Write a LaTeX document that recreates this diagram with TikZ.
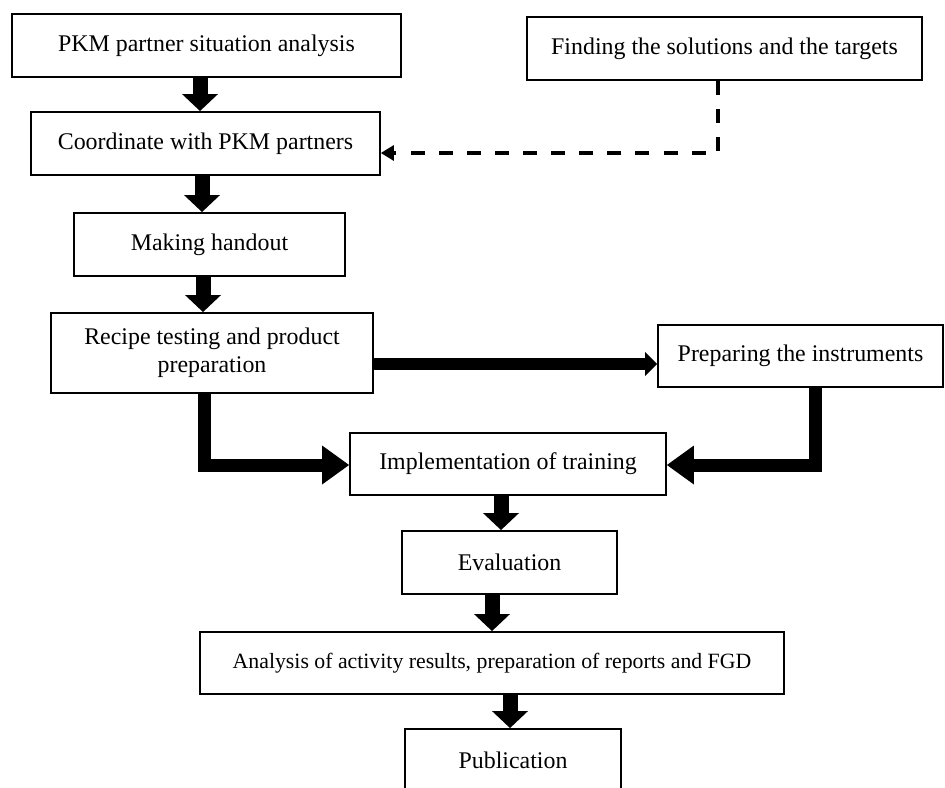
\documentclass[tikz,border=0pt]{standalone}
\usepackage{fontspec}
\setmainfont{Liberation Serif}
\usetikzlibrary{positioning, arrows.meta}

\begin{document}
\begin{tikzpicture}[x=0.02cm, y=-0.02cm,
box/.style={rectangle, draw=black, line width=1.1pt, align=center, font=\fontsize{13.6}{16}\selectfont, minimum height=1.26cm, inner sep=2pt},
block/.style={-{Triangle[length=0.34cm, width=0.72cm, line width=0pt]}, line width=0.3cm},
thin block/.style={-{Triangle[length=0.24cm, width=0.48cm, line width=0pt]}, line width=0.25cm},
bend block/.style={-{Triangle[length=0.54cm, width=0.78cm, line width=0pt]}, line width=0.26cm, line join=miter},
feedback/.style={-{Triangle[length=0.26cm, width=0.32cm, line width=0pt]}, line width=2.5pt, dash pattern=on 8pt off 8pt},
]
\useasboundingbox (0,0) rectangle (945,787);

%Nodes
\node [box, minimum width=7.78cm] (situation) at (206.5,45.5) {PKM partner situation analysis};
\node [box, minimum width=7.9cm] (finding) at (724.5,48.5) {Finding the solutions and the targets};
\node [box, minimum width=6.98cm] (coordinate) at (205.5,143.5) {Coordinate with PKM partners};
\node [box, minimum width=5.42cm] (handout) at (209.5,244.5) {Making handout};
\node [box, minimum width=6.44cm, minimum height=1.6cm] (recipe) at (212,353) {Recipe testing and product\\preparation};
\node [box, minimum width=5.7cm, minimum height=1.24cm] (instruments) at (800.5,356) {Preparing the instruments};
\node [box, minimum width=6.32cm, minimum height=1.24cm] (training) at (508,464) {Implementation of training};
\node [box, minimum width=4.3cm] (evaluation) at (509.5,562.5) {Evaluation};
\node [box, minimum width=11.7cm, minimum height=1.24cm, font=\fontsize{12.4}{15}\selectfont] (results) at (492,663) {Analysis of activity results, preparation of reports and FGD};
\node [box, minimum width=4.32cm] (publication) at (513,760.5) {Publication};

% Paths
\draw [block] (situation.south -| 200,0) -- (coordinate.north -| 200,0);
\draw [block] (coordinate.south -| 202,0) -- (handout.north -| 202,0);
\draw [block] (handout.south -| 203,0) -- (recipe.north -| 203,0);
\draw [feedback] (finding.south -| 718,0) |- (coordinate.east |- 0,153);
\draw [thin block] (recipe.east |- 0,364) -- (instruments.west |- 0,364);
\draw [bend block] (recipe.south -| 204,0) |- (training.west |- 0,465);
\draw [bend block] (instruments.south -| 815,0) |- (training.east |- 0,465);
\draw [block] (training.south -| 501,0) -- (evaluation.north -| 501,0);
\draw [block] (evaluation.south -| 492,0) -- (results.north -| 492,0);
\draw [block] (results.south -| 510,0) -- (publication.north -| 510,0);
\end{tikzpicture}
\end{document}
